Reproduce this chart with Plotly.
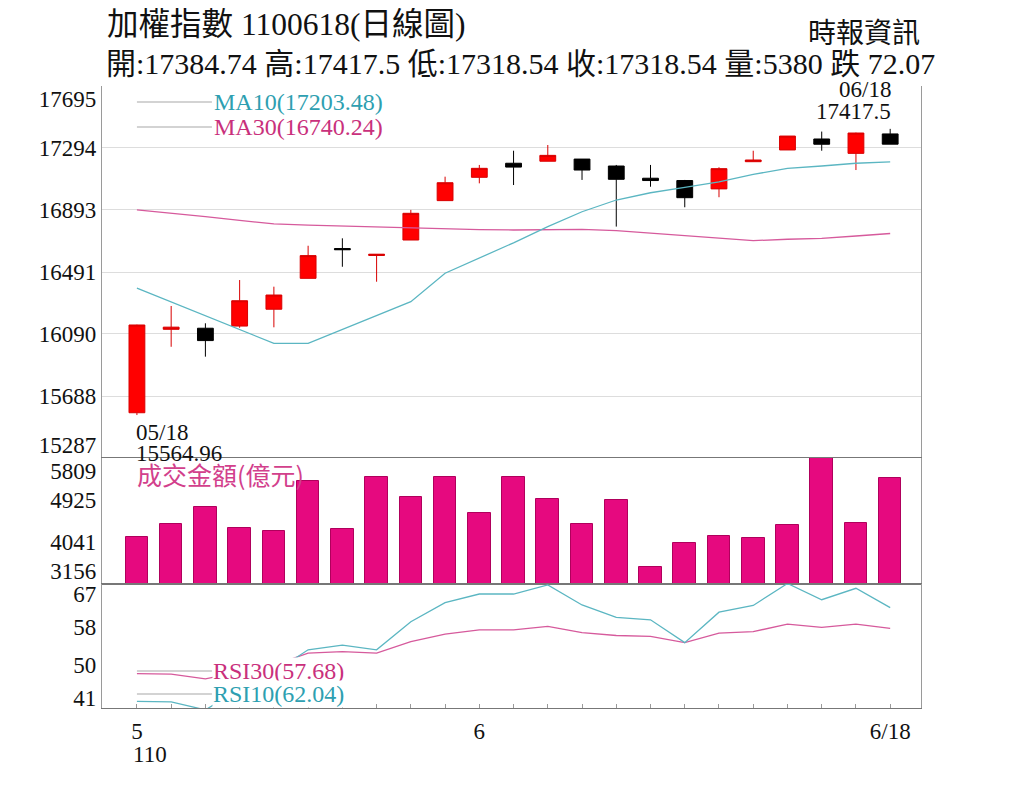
import plotly.graph_objects as go
from plotly.subplots import make_subplots

# ── data ──────────────────────────────────────────────────
dates = ["05/18", "05/19", "05/20", "05/21", "05/24", "05/25", "05/26", "05/27",
         "05/28", "05/31", "06/01", "06/02", "06/03", "06/04", "06/07", "06/08",
         "06/09", "06/10", "06/11", "06/15", "06/16", "06/17", "06/18"]

open_ = [15580, 16120, 16127, 16141, 16250, 16450, 16643, 16598, 16698, 16953, 17104, 17195,
         17208, 17222, 17177, 17098, 17083, 17029, 17205, 17281, 17352, 17259, 17384.74]
high = [16150, 16271, 16159, 16439, 16396, 16661, 16709, 16606, 16893, 17108, 17184, 17276,
        17313, 17222, 17184, 17184, 17087, 17169, 17276, 17371, 17400, 17393, 17417.5]
low = [15564.96, 16007, 15943, 16130, 16133, 16450, 16525, 16428, 16698, 16953, 17065, 17054,
       17208, 17087, 16785, 17043, 16910, 16975, 17205, 17281, 17276, 17151, 17318.54]
close = [16148, 16134, 16047, 16305, 16342, 16597, 16635, 16606, 16871, 17069, 17162, 17170,
         17246, 17151, 17091, 17083, 16972, 17160, 17216, 17371, 17318, 17390.61, 17318.54]

ma10 = [16386, 16297, 16208, 16120, 16029, 16029, 16120, 16211, 16299, 16483, 16580, 16680,
        16785, 16881, 16957, 17004, 17039, 17075, 17123, 17162, 17177, 17195, 17203.48]
ma30 = [16893, 16873, 16849, 16825, 16802, 16795, 16789, 16782, 16774, 16769, 16765, 16763,
        16765, 16767, 16759, 16742, 16724, 16711, 16694, 16703, 16709, 16724, 16740.24]

volume = [4139, 4420, 4784, 4328, 4279, 5332, 4308, 5416, 4981, 5403, 4658, 5416,
          4940, 4420, 4925, 3521, 4026, 4167, 4119, 4399, 6050, 4447, 5380]

rsi10 = [42.4, 42.3, 40.6, 45.0, 48.5, 53.2, 54.2, 53.2, 59.1, 63.1, 64.9, 64.9,
         66.8, 62.6, 60.0, 59.5, 54.7, 61.1, 62.5, 67.1, 63.7, 66.1, 62.04]
rsi30 = [48.2, 48.1, 47.1, 48.6, 50.0, 52.5, 52.8, 52.5, 54.9, 56.5, 57.4, 57.4,
         58.1, 56.8, 56.2, 56.0, 54.7, 56.7, 57.0, 58.6, 57.9, 58.6, 57.68]

price_ticks = [15287, 15688, 16090, 16491, 16893, 17294, 17695]
vol_ticks = [3156, 4041, 4925, 5809]
rsi_ticks = [41, 50, 58, 67]

# ── layout helpers (page draws the figure 8px in from the corner) ──
W, H = 1024, 790
OFF = 8
M_L, M_R, M_T, M_B = 102 - OFF, 103 + OFF, 86 - OFF, 82 + OFF
PLOT_W = W - M_L - M_R
PLOT_H = H - M_T - M_B
ROWS = [372, 126, 124]


def pyy(y):
    # screen pixel y -> paper y
    return (H - M_B - (y - OFF)) / PLOT_H


def pxx(x):
    return (x - OFF - M_L) / PLOT_W


def label_pos(ticks, panel_px, nudge_px):
    # keep end labels inside their own panel
    span = ticks[-1] - ticks[0]
    d = span * nudge_px / panel_px
    pos = list(ticks)
    pos[0] += d
    pos[-1] -= d
    return pos


SERIF = "Liberation Serif, Noto Sans CJK TC"
CYAN_LINE = "#5BB6C2"
PINK_LINE = "#D65A9C"
CYAN_TXT = "#2E9FB1"
PINK_TXT = "#C9307C"
GRAY = "#9A9A9A"

x = list(range(len(dates)))

fig = make_subplots(rows=3, cols=1, shared_xaxes=True, vertical_spacing=0,
                    row_heights=ROWS)

fig.add_trace(go.Candlestick(
    x=x, open=open_, high=high, low=low, close=close,
    increasing=dict(line=dict(color="#D80000", width=1), fillcolor="#FF0000"),
    decreasing=dict(line=dict(color="#000000", width=1), fillcolor="#000000"),
    whiskerwidth=0, showlegend=False,
), row=1, col=1)
fig.add_trace(go.Scatter(x=x, y=ma30, mode="lines", line=dict(color=PINK_LINE, width=1.3),
                         showlegend=False), row=1, col=1)
fig.add_trace(go.Scatter(x=x, y=ma10, mode="lines", line=dict(color=CYAN_LINE, width=1.3),
                         showlegend=False), row=1, col=1)

fig.add_trace(go.Bar(x=x, y=volume, width=0.66,
                     marker=dict(color="#E6097F", line=dict(color="#B0005C", width=1)),
                     showlegend=False), row=2, col=1)

fig.add_trace(go.Scatter(x=x, y=rsi30, mode="lines", line=dict(color=PINK_LINE, width=1.3),
                         showlegend=False), row=3, col=1)
fig.add_trace(go.Scatter(x=x, y=rsi10, mode="lines", line=dict(color=CYAN_LINE, width=1.3),
                         showlegend=False), row=3, col=1)

# x tick text: month number where month changes, full date at the end
ticktext = []
prev_m = None
for i, d in enumerate(dates):
    m, dd = d.split("/")
    if i == len(dates) - 1:
        ticktext.append(f"{int(m)}/{int(dd)}")
    elif m != prev_m:
        ticktext.append(str(int(m)))
    else:
        ticktext.append("")
    prev_m = m

tick_font = dict(family=SERIF, size=23, color="#111")

fig.update_xaxes(range=[-1.02, 22.9], showgrid=False, zeroline=False,
                 rangeslider_visible=False)
fig.update_xaxes(showline=False, row=1, col=1)
fig.update_xaxes(showline=True, mirror=True, linecolor="#777", linewidth=1.2, row=2, col=1)
fig.update_xaxes(showline=True, mirror=True, linecolor="#777", linewidth=1.2,
                 tickmode="array", tickvals=x, ticktext=ticktext, showticklabels=True,
                 ticks="inside", ticklen=4, tickcolor=GRAY, tickfont=tick_font,
                 ticklabelstandoff=2, row=3, col=1)

fig.update_yaxes(range=[price_ticks[0], price_ticks[-1]], tickmode="array",
                 tickvals=label_pos(price_ticks, ROWS[0], 13),
                 ticktext=[str(t) for t in price_ticks], showgrid=False,
                 minor=dict(tickmode="array", tickvals=price_ticks, showgrid=True,
                            gridcolor="#DDDDDD", gridwidth=1, ticks=""),
                 row=1, col=1)
fig.update_yaxes(range=[vol_ticks[0], vol_ticks[-1]], tickmode="array",
                 tickvals=label_pos(vol_ticks, ROWS[1], 13),
                 ticktext=[str(t) for t in vol_ticks], showgrid=False, row=2, col=1)
fig.update_yaxes(range=[rsi_ticks[0], rsi_ticks[-1]], tickmode="array",
                 tickvals=label_pos(rsi_ticks, ROWS[2], 10),
                 ticktext=[str(t) for t in rsi_ticks], showgrid=False, row=3, col=1)
fig.update_yaxes(showline=True, mirror=True, linecolor=GRAY, linewidth=1.2, zeroline=False,
                 ticks="", tickfont=tick_font)

ann = []
# header
ann.append(dict(text="加權指數 1100618(日線圖)", xref="paper", yref="paper",
                x=pxx(105), y=pyy(24), xanchor="left", yanchor="middle",
                showarrow=False, font=dict(family=SERIF, size=31.5, color="#111")))
ann.append(dict(text="開:17384.74 高:17417.5 低:17318.54 收:17318.54 量:5380 跌 72.07",
                xref="paper", yref="paper", x=pxx(104), y=pyy(63),
                xanchor="left", yanchor="middle", showarrow=False,
                font=dict(family=SERIF, size=30, color="#111")))
ann.append(dict(text="時報資訊", xref="paper", yref="paper", x=pxx(922),
                y=pyy(34), xanchor="right", yanchor="middle", showarrow=False,
                font=dict(family=SERIF, size=28, color="#111")))

# MA legend
LEG_X = 2.19
for label, val, col, ypx in [("MA10", ma10[-1], CYAN_TXT, 102), ("MA30", ma30[-1], PINK_TXT, 127)]:
    ann.append(dict(text=f"{label}({val:.2f})", xref="x", yref="paper", x=LEG_X, y=pyy(ypx),
                    xanchor="left", yanchor="middle", showarrow=False,
                    font=dict(family=SERIF, size=24, color=col)))

# RSI legend
for label, val, col, ypx in [("RSI30", rsi30[-1], PINK_TXT, 671), ("RSI10", rsi10[-1], CYAN_TXT, 694)]:
    ann.append(dict(text=f"{label}({val:.2f})", xref="x", yref="paper", x=LEG_X, y=pyy(ypx),
                    xanchor="left", yanchor="middle", showarrow=False, bgcolor="white",
                    borderpad=0, font=dict(family=SERIF, size=24, color=col)))

ann.append(dict(text="成交金額(億元)", xref="x", yref="paper", x=0, xshift=-2, y=pyy(474),
                xanchor="left", yanchor="middle", showarrow=False,
                font=dict(family="Noto Sans CJK TC, " + SERIF, size=25, color="#D2408C")))

# low / high marks
ann.append(dict(text=dates[0], x=0, y=low[0], xref="x", yref="y", xanchor="left", yanchor="top",
                yshift=-3, xshift=-3, showarrow=False, font=dict(family=SERIF, size=23, color="#111")))
ann.append(dict(text=f"{low[0]:.2f}", x=0, y=low[0], xref="x", yref="y", xanchor="left",
                yanchor="top", yshift=-24, xshift=-3, showarrow=False,
                font=dict(family=SERIF, size=23, color="#111")))
ann.append(dict(text=dates[-1], x=x[-1], y=high[-1], xref="x", yref="y", xanchor="right",
                yanchor="bottom", yshift=25, xshift=3, showarrow=False,
                font=dict(family=SERIF, size=23, color="#111")))
ann.append(dict(text=f"{high[-1]}", x=x[-1], y=high[-1], xref="x", yref="y", xanchor="right",
                yanchor="bottom", yshift=3, xshift=3, showarrow=False,
                font=dict(family=SERIF, size=23, color="#111")))

# ROC year under the first month
ann.append(dict(text="110", x=0, xref="x", yref="paper", y=pyy(754), xanchor="left",
                yanchor="middle", xshift=-6, showarrow=False,
                font=dict(family=SERIF, size=23, color="#111")))

shapes = []
for ypx in [102, 127, 671, 694]:
    shapes.append(dict(type="line", xref="x", yref="paper", x0=0, x1=LEG_X,
                       y0=pyy(ypx), y1=pyy(ypx), line=dict(color="#C4C4C4", width=1.5)))

fig.update_layout(
    width=W, height=H,
    margin=dict(l=M_L, r=M_R, t=M_T, b=M_B),
    plot_bgcolor="white", paper_bgcolor="white",
    font=dict(family=SERIF, color="#111"),
    boxgap=0.34, bargap=0,
    annotations=ann, shapes=shapes,
    showlegend=False,
)

fig.write_html("out.html")
